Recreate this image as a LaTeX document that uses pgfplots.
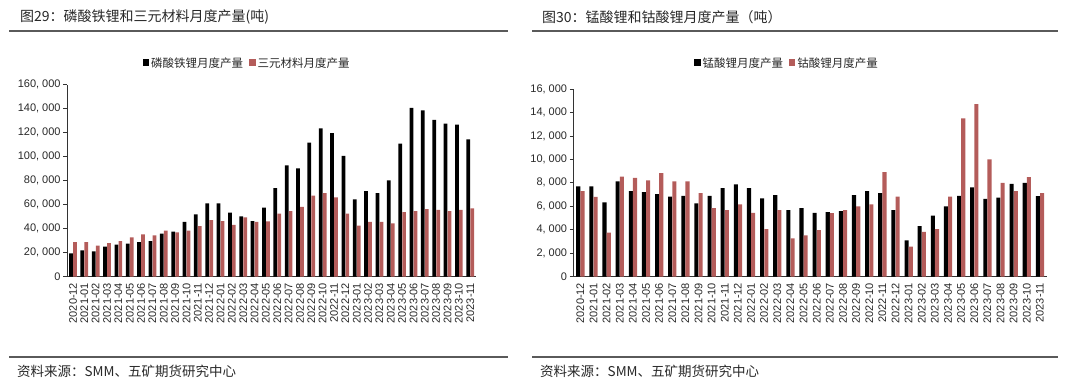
\documentclass[border=0pt]{standalone}
\usepackage{pgfplots}
\pgfplotsset{compat=1.18}
\usepackage{fontspec}
\setmainfont{Liberation Sans}
\newfontfamily\cjk{Noto Sans CJK SC}
\definecolor{redbar}{RGB}{180,92,90}
\definecolor{txt}{RGB}{40,40,40}
\definecolor{rule}{RGB}{90,90,90}

\pgfplotstableread{
x lfp ncm
0 19400 28900
1 21900 28900
2 21100 25800
3 25000 28000
4 26700 29700
5 27500 32800
6 28900 35300
7 29700 34400
8 35800 38300
9 37500 36900
10 45600 38300
11 51900 42200
12 61100 47200
13 61100 46400
14 53300 43100
15 50300 49400
16 46400 45600
17 57500 46100
18 73900 52500
19 92800 54700
20 90300 58100
21 111700 67500
22 123600 69700
23 119700 66100
24 100600 52500
25 64400 42500
26 71400 45600
27 69700 45600
28 80300 44400
29 110800 53900
30 140600 54700
31 138600 56400
32 130600 55600
33 127500 54700
34 126700 55600
35 114400 56900
}\lefttable

\pgfplotstableread{
x lmo lco
0 7700 7300
1 7700 6800
2 6330 3750
3 8120 8520
4 7300 8430
5 7210 8210
6 7040 8830
7 6820 8120
8 6900 8120
9 6250 7130
10 6900 5850
11 7550 5680
12 7870 6160
13 7550 5450
14 6670 4060
15 6960 5680
16 5680 3270
17 5850 3520
18 5450 3980
19 5510 5420
20 5590 5680
21 6960 5990
22 7300 6160
23 7130 8920
24 5680 6820
25 3100 2560
26 4320 3830
27 5200 4060
28 5990 6820
29 6900 13490
30 7610 14710
31 6640 10010
32 6730 8000
33 7920 7300
34 8000 8490
35 6870 7130
}\righttable

\pgfplotsset{
  mystyle/.style={
    scale only axis, ybar,
    xmin=-0.5, xmax=35.5, ymin=0,
    axis x line*=bottom, axis y line*=left,
    xtick={0,...,35},
    xticklabels={2020-12,2021-01,2021-02,2021-03,2021-04,2021-05,2021-06,2021-07,2021-08,2021-09,2021-10,2021-11,2021-12,2022-01,2022-02,2022-03,2022-04,2022-05,2022-06,2022-07,2022-08,2022-09,2022-10,2022-11,2022-12,2023-01,2023-02,2023-03,2023-04,2023-05,2023-06,2023-07,2023-08,2023-09,2023-10,2023-11},
    xticklabel style={rotate=90, anchor=east, font=\fontsize{11bp}{12bp}\selectfont, text=txt, inner sep=2bp},
    major x tick style={draw=none},
    yticklabel style={font=\fontsize{11bp}{12bp}\selectfont, text=txt, inner sep=2.5bp},
    tick align=outside, major tick length=4bp,
    axis line style={line width=0.8bp, black!80},
    ytick style={line width=0.8bp, black!80},
    scaled y ticks=false,
    /pgf/number format/fixed,
    /pgf/number format/1000 sep={,\ },
    /pgf/number format/assume math mode=true,
    legend columns=2,
    legend style={draw=none, fill=none, anchor=center, inner sep=0pt,
      font=\cjk\fontsize{11.5bp}{13bp}\selectfont, text=txt,
      /tikz/every even column/.append style={column sep=4bp},
      /tikz/every odd column/.append style={column sep=0bp}},
    legend image code/.code={\fill[##1] (0bp,-3bp) rectangle (6.5bp,3.5bp);},
  }
}

\begin{document}
\begin{tikzpicture}
\useasboundingbox (0bp,0bp) rectangle (1080bp,384bp);

% ---------- left panel ----------
\node[anchor=west, text=txt, inner sep=0pt] at (20bp,367bp) {\cjk\fontsize{14bp}{16bp}\selectfont 图29：磷酸铁锂和三元材料月度产量(吨)};
\draw[rule, line width=1.2bp] (9bp,353bp) -- (508bp,353bp);
\draw[rule, line width=1.2bp] (9bp,27bp) -- (508bp,27bp);
\node[anchor=west, text=txt, inner sep=0pt] at (17bp,13bp) {\cjk\fontsize{13.5bp}{15bp}\selectfont 资料来源：SMM、五矿期货研究中心};

\begin{axis}[mystyle,
  at={(67.3bp,107.3bp)}, anchor=south west,
  width=408.6bp, height=192bp,
  ymax=160000, ytick={0,20000,...,160000},
  legend style={at={(0.44,1.113)}},
]
\addplot[fill=black, draw=none, bar width=0.33, bar shift=-0.176] table[x=x, y=lfp] {\lefttable};
\addplot[fill=redbar, draw=none, bar width=0.33, bar shift=0.176] table[x=x, y=ncm] {\lefttable};
\legend{磷酸铁锂月度产量, 三元材料月度产量}
\end{axis}

% ---------- right panel ----------
\node[anchor=west, text=txt, inner sep=0pt] at (542bp,367bp) {\cjk\fontsize{14bp}{16bp}\selectfont 图30：锰酸锂和钴酸锂月度产量（吨）};
\draw[rule, line width=1.2bp] (532bp,353bp) -- (1058bp,353bp);
\draw[rule, line width=1.2bp] (532bp,27bp) -- (1058bp,27bp);
\node[anchor=west, text=txt, inner sep=0pt] at (540bp,13bp) {\cjk\fontsize{13.5bp}{15bp}\selectfont 资料来源：SMM、五矿期货研究中心};

\begin{axis}[mystyle,
  at={(573.8bp,107.3bp)}, anchor=south west,
  width=472.7bp, height=187.7bp,
  ymax=16000, ytick={0,2000,...,16000},
  legend style={at={(0.451,1.139)}},
]
\addplot[fill=black, draw=none, bar width=0.31, bar shift=-0.16] table[x=x, y=lmo] {\righttable};
\addplot[fill=redbar, draw=none, bar width=0.31, bar shift=0.16] table[x=x, y=lco] {\righttable};
\legend{锰酸锂月度产量, 钴酸锂月度产量}
\end{axis}
\end{tikzpicture}
\end{document}
